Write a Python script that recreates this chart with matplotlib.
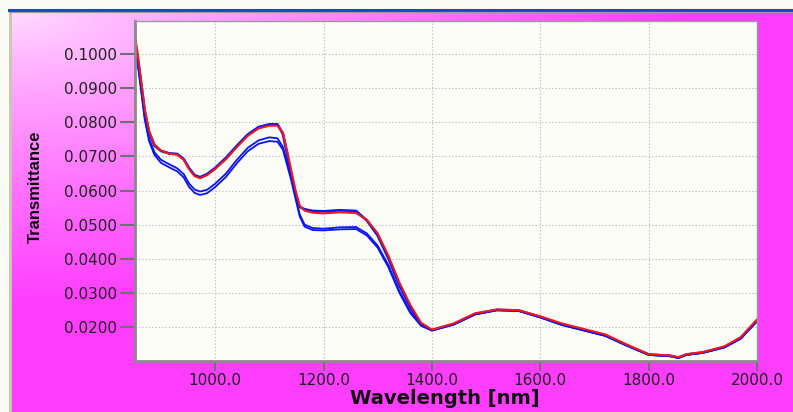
import matplotlib.pyplot as plt
import numpy as np

# wavelength grid [nm] and transmittance of the four scans
wavelength = [852, 858, 864, 870, 878, 888, 900, 915, 930, 942, 952, 962, 972, 985,
              1000, 1020, 1040, 1060, 1080, 1100, 1115, 1125, 1133, 1140, 1148, 1156,
              1165, 1180, 1200, 1230, 1260, 1280, 1300, 1320, 1340, 1360, 1380, 1400,
              1440, 1480, 1520, 1560, 1600, 1640, 1680, 1720, 1760, 1800, 1840, 1855,
              1870, 1900, 1940, 1970, 2000]

scan_red = [0.1055, 0.0990, 0.0915, 0.0840, 0.0775, 0.0735, 0.0717, 0.0708, 0.0705, 0.0690,
            0.0662, 0.0642, 0.0636, 0.0645, 0.0663, 0.0692, 0.0727, 0.0760, 0.0782, 0.0790,
            0.0790, 0.0770, 0.0715, 0.0662, 0.0603, 0.0556, 0.0541, 0.0535, 0.0533, 0.0536,
            0.0534, 0.0514, 0.0474, 0.0408, 0.0330, 0.0265, 0.0212, 0.0192, 0.0210, 0.0240,
            0.0251, 0.0249, 0.0231, 0.0210, 0.0194, 0.0178, 0.0148, 0.0120, 0.0116, 0.0111,
            0.0120, 0.0126, 0.0143, 0.0170, 0.0222]

scan_blue1 = [0.1040, 0.0975, 0.0905, 0.0830, 0.0770, 0.0732, 0.0716, 0.0709, 0.0707, 0.0692,
              0.0665, 0.0645, 0.0639, 0.0648, 0.0666, 0.0696, 0.0731, 0.0764, 0.0786, 0.0794,
              0.0794, 0.0766, 0.0705, 0.0650, 0.0590, 0.0552, 0.0545, 0.0540, 0.0539, 0.0542,
              0.0540, 0.0512, 0.0468, 0.0400, 0.0322, 0.0258, 0.0208, 0.0190, 0.0208, 0.0238,
              0.0250, 0.0248, 0.0229, 0.0207, 0.0191, 0.0175, 0.0146, 0.0119, 0.0115, 0.0110,
              0.0119, 0.0125, 0.0141, 0.0167, 0.0218]

scan_blue2 = [0.1030, 0.0965, 0.0890, 0.0815, 0.0752, 0.0712, 0.0690, 0.0677, 0.0665, 0.0648,
              0.0620, 0.0603, 0.0597, 0.0602, 0.0620, 0.0650, 0.0690, 0.0725, 0.0747, 0.0756,
              0.0753, 0.0728, 0.0680, 0.0640, 0.0585, 0.0530, 0.0500, 0.0490, 0.0488, 0.0492,
              0.0493, 0.0474, 0.0438, 0.0380, 0.0305, 0.0245, 0.0205, 0.0190, 0.0207, 0.0237,
              0.0249, 0.0247, 0.0228, 0.0206, 0.0190, 0.0174, 0.0145, 0.0118, 0.0114, 0.0109,
              0.0118, 0.0124, 0.0140, 0.0166, 0.0217]

scan_blue3 = [0.1025, 0.0960, 0.0884, 0.0808, 0.0745, 0.0704, 0.0681, 0.0668, 0.0656, 0.0638,
              0.0610, 0.0593, 0.0587, 0.0592, 0.0610, 0.0640, 0.0680, 0.0715, 0.0737, 0.0745,
              0.0743, 0.0720, 0.0673, 0.0632, 0.0578, 0.0524, 0.0494, 0.0484, 0.0483, 0.0486,
              0.0487, 0.0468, 0.0432, 0.0374, 0.0300, 0.0241, 0.0203, 0.0190, 0.0207, 0.0237,
              0.0249, 0.0247, 0.0228, 0.0206, 0.0190, 0.0174, 0.0145, 0.0118, 0.0114, 0.0109,
              0.0118, 0.0124, 0.0140, 0.0166, 0.0217]

x_ticks = [1000.0, 1200.0, 1400.0, 1600.0, 1800.0, 2000.0]
y_ticks = [0.02, 0.03, 0.04, 0.05, 0.06, 0.07, 0.08, 0.09, 0.10]

W, H = 793, 412
fig = plt.figure(figsize=(W / 100, H / 100), dpi=100)
fig.patch.set_facecolor('#fbfbf5')

# pink window panel with a diagonal gradient
panel = fig.add_axes([12 / W, 0, 1 - 12 / W, 1 - 12 / H])
panel.set_axis_off()
gx, gy = np.meshgrid(np.linspace(0, 1, 300), np.linspace(0, 1, 160))
t = np.clip(np.sqrt((gx * 1.1) ** 2 + (gy * 1.3) ** 2) / 0.95, 0, 1) ** 0.8
light = np.array([1.0, 0.87, 1.0])
dark = np.array([1.0, 0.24, 1.0])
img = light[None, None, :] * (1 - t[..., None]) + dark[None, None, :] * t[..., None]
panel.imshow(img, aspect='auto', extent=[0, 1, 1, 0])
panel.set_xlim(0, 1)
panel.set_ylim(1, 0)

# window title bar line and left border
fig.add_artist(plt.Line2D([9 / W, 1], [1 - 10 / H, 1 - 10 / H], color='#1a48c4', lw=2.2))
fig.add_artist(plt.Line2D([9 / W, 1], [1 - 11.8 / H, 1 - 11.8 / H], color='#9a9aa8', lw=0.8))
fig.add_artist(plt.Rectangle((9 / W, 0), 3 / W, 1 - 11 / H, color='#cdc6b4', lw=0))

ax = fig.add_axes([135 / W, 1 - 361 / H, 622 / W, 340.3 / H])
ax.set_facecolor('#fdfdf8')

ax.plot(wavelength, scan_blue3, color='#0a14f0', lw=1.3)
ax.plot(wavelength, scan_blue2, color='#0a14f0', lw=1.3)
ax.plot(wavelength, scan_blue1, color='#0a14f0', lw=1.9)
ax.plot(wavelength, scan_red, color='#f01818', lw=1.5)

ax.set_xlim(852, 2000)
ax.set_ylim(0.0100, 0.1098)
ax.set_xticks(x_ticks)
ax.set_yticks(y_ticks)
ax.set_xticklabels(['%.1f' % v for v in x_ticks])
ax.set_yticklabels(['%.4f' % v for v in y_ticks])
ax.tick_params(axis='both', colors='#707070', labelcolor='#202020', labelsize=11,
               width=1.5)
ax.tick_params(axis='y', length=11, pad=2)
ax.tick_params(axis='x', length=7, pad=1.5)

ax.grid(True, color='#bdbdbd', linestyle=(0, (1.2, 1.8)), lw=0.8)

for side in ['left', 'bottom']:
    ax.spines[side].set_color('#8a8a8a')
    ax.spines[side].set_linewidth(2)
for side in ['top', 'right']:
    ax.spines[side].set_color('#9a9a9a')
    ax.spines[side].set_linewidth(1)

fig.text(445 / W, 1 - 399 / H, 'Wavelength [nm]', ha='center', va='center',
         fontsize=14, fontweight='bold', color='#101010')
fig.text(35 / W, 1 - 187 / H, 'Transmittance', ha='center', va='center',
         rotation=90, fontsize=12, fontweight='bold', family='Liberation Sans',
         color='#101010')

fig.savefig('out.png', dpi=100, facecolor=fig.get_facecolor())
